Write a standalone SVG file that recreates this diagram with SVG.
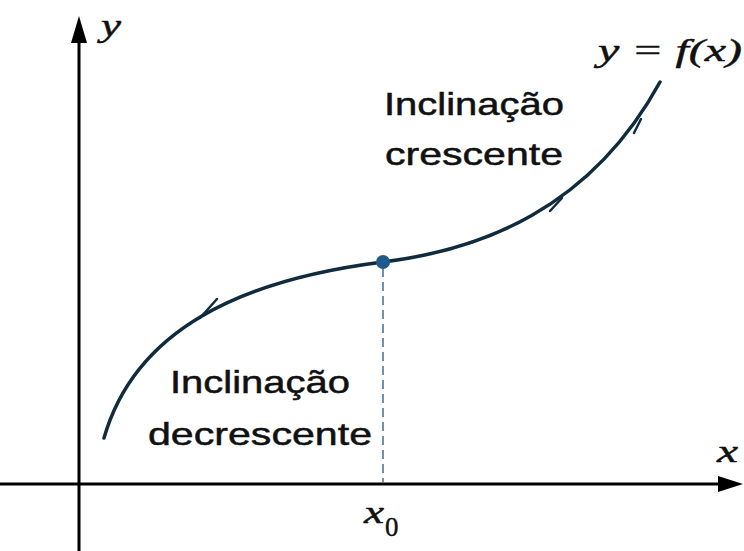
<svg xmlns="http://www.w3.org/2000/svg" width="744" height="551" viewBox="0 0 744 551">
<style>
.axis{stroke:#000;stroke-width:3;fill:none}
.curve{stroke:#0f2b3d;stroke-width:3.5;fill:none;stroke-linecap:round}
.barb{stroke:#0f2b3d;stroke-width:2.5;fill:none;stroke-linecap:round}
.dash{stroke:#4f7696;stroke-width:1.6;stroke-dasharray:9 5;fill:none}
.sans{font-family:"Liberation Sans",Arial,sans-serif;font-size:32px;fill:#111;stroke:#111;stroke-width:0.5}
.math{font-family:"Liberation Serif","Times New Roman",serif;font-style:italic;font-size:31px;fill:#111;stroke:#111;stroke-width:0.45}
.sub{font-family:"Liberation Serif","Times New Roman",serif;font-size:27px;fill:#111;stroke:#111;stroke-width:0.4}
</style>
<rect width="744" height="551" fill="#fff"/>
<g id="axes">
<line class="axis" x1="79" y1="551" x2="79" y2="40"/>
<polygon points="79,16 71,43 87,43" fill="#000"/>
<line class="axis" x1="0" y1="484" x2="722" y2="484"/>
<polygon points="743,484 718,476 718,492" fill="#000"/>
</g>
<g id="connectors">
<line class="dash" x1="383" y1="268" x2="383" y2="483"/>
<path class="curve" d="M104,438 C135,330 240,280 383,262 C480,250 590,210 660,82"/>
<line class="barb" x1="200" y1="318" x2="217" y2="299"/>
<line class="barb" x1="562" y1="198" x2="550" y2="211"/>
<line class="barb" x1="641" y1="119" x2="634" y2="133"/>
</g>
<g id="point">
<circle cx="383" cy="262" r="7" fill="#1f5a8a"/>
</g>
<g id="labels">
<text class="math" x="101" y="36" textLength="20" lengthAdjust="spacingAndGlyphs">y</text>
<text class="math" x="598" y="61" font-size="34" textLength="144" lengthAdjust="spacingAndGlyphs">y = f(x)</text>
<text class="math" x="717" y="462" textLength="21" lengthAdjust="spacingAndGlyphs">x</text>
<text class="math" x="364" y="523" textLength="20" lengthAdjust="spacingAndGlyphs">x</text>
<text class="sub" x="385" y="536">0</text>
<text class="sans" x="384" y="115" textLength="180" lengthAdjust="spacingAndGlyphs">Inclinação</text>
<text class="sans" x="385" y="165" textLength="178" lengthAdjust="spacingAndGlyphs">crescente</text>
<text class="sans" x="170" y="393" textLength="180" lengthAdjust="spacingAndGlyphs">Inclinação</text>
<text class="sans" x="148" y="445" textLength="224" lengthAdjust="spacingAndGlyphs">decrescente</text>
</g>
</svg>
